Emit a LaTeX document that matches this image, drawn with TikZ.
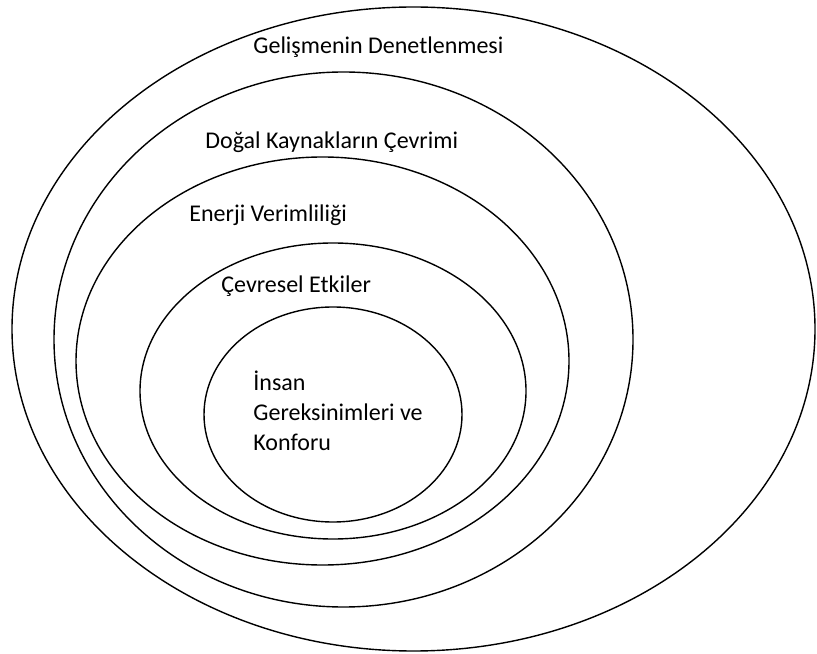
\documentclass[tikz,border=0pt]{standalone}
\usepackage{fontspec}
\setmainfont{Carlito}
\usetikzlibrary{positioning}

\begin{document}
\begin{tikzpicture}[x=0.5pt, y=0.5pt,
    ring/.style={draw=black, line width=0.7pt},
    ringlabel/.style={font=\fontsize{12}{15}\selectfont, anchor=base west, inner sep=0pt, align=left}]
    \useasboundingbox (0,0) rectangle (817,653);

    % Nested rings (centre x / centre y / x radius / y radius)
    \foreach \cx/\cy/\rx/\ry in {413.5/324/401.5/322, 343.5/313.5/289.5/267.5,
        322.5/292/246.5/204, 333/262/193/148, 333/238.5/129/107.5} {
        \draw[ring] (\cx,\cy) ellipse [x radius=\rx, y radius=\ry];
    }

    % Ring labels
    \node[ringlabel] (gelisme) at (253,599) {Gelişmenin Denetlenmesi};
    \node[ringlabel] (kaynak) at (205,504) {Doğal Kaynakların Çevrimi};
    \node[ringlabel] (enerji) at (189,431) {Enerji Verimliliği};
    \node[ringlabel] (cevre) at (221,360) {Çevresel Etkiler};
    \node[ringlabel] (insan) at (253,203) {İnsan\\Gereksinimleri ve\\Konforu};
\end{tikzpicture}
\end{document}
